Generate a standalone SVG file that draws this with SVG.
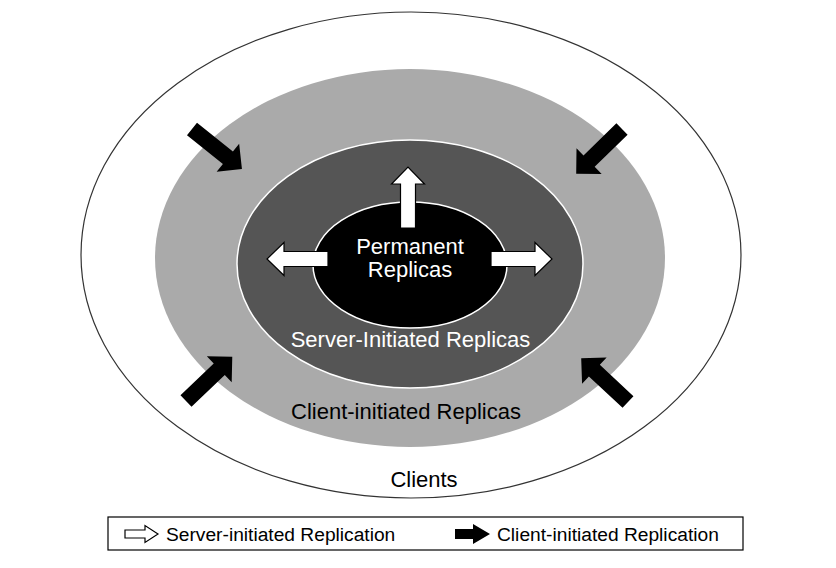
<svg xmlns="http://www.w3.org/2000/svg" width="836" height="568" viewBox="0 0 836 568">
<style>
  text { font-family: "Liberation Sans", Arial, sans-serif; text-anchor: middle; }
  .lbl { font-size: 22px; }
  .leg { font-size: 19.2px; text-anchor: start; fill: #000; }
  .warrow { fill: #fff; stroke: #000; stroke-width: 1.2; stroke-linejoin: miter; }
  .barrow { fill: #000; }
</style>
<defs>
  <path id="wa" d="M0,-7.5 L44,-7.5 L44,-16.5 L61,0 L44,16.5 L44,7.5 L0,7.5 Z"/>
  <path id="ba" d="M0,-8 L46,-8 L46,-18 L64,0 L46,18 L46,8 L0,8 Z"/>
</defs>
<rect width="836" height="568" fill="#fff"/>
<g id="clients">
  <ellipse cx="411" cy="255" rx="330" ry="243" fill="#fff" stroke="#333" stroke-width="1.2"/>
  <text class="lbl" x="424" y="487" fill="#000">Clients</text>
</g>
<g id="client-initiated">
  <ellipse cx="410" cy="258" rx="255" ry="189" fill="#aaaaaa"/>
  <text class="lbl" x="406" y="419" fill="#000">Client-initiated Replicas</text>
</g>
<g id="server-initiated">
  <ellipse cx="410" cy="264" rx="173" ry="124" fill="#555555" stroke="#fff" stroke-width="1.5"/>
  <text class="lbl" x="410.5" y="347" fill="#fff">Server-Initiated Replicas</text>
</g>
<g id="permanent">
  <ellipse cx="410" cy="265" rx="97" ry="63" fill="#000" stroke="#fff" stroke-width="1.5"/>
  <text class="lbl" x="410" y="254" fill="#fff">Permanent</text>
  <text class="lbl" x="410" y="277" fill="#fff">Replicas</text>
</g>
<g id="connectors">
  <use href="#wa" class="warrow" transform="translate(408,228) rotate(-90)"/>
  <use href="#wa" class="warrow" transform="translate(328,259) rotate(180)"/>
  <use href="#wa" class="warrow" transform="translate(491,259)"/>
  <use href="#ba" class="barrow" transform="translate(192,129) rotate(38.7)"/>
  <use href="#ba" class="barrow" transform="translate(622,129) rotate(135.7)"/>
  <use href="#ba" class="barrow" transform="translate(186,401) rotate(-43.7)"/>
  <use href="#ba" class="barrow" transform="translate(628,402) rotate(223)"/>
</g>
<g id="legend">
  <rect x="108" y="517" width="635" height="33" fill="#fff" stroke="#000" stroke-width="1.2"/>
  <path d="M125,530 L145,530 L145,525.5 L158,534 L145,542.5 L145,538 L125,538 Z" fill="#fff" stroke="#000" stroke-width="1.2"/>
  <text class="leg" x="166" y="541">Server-initiated Replication</text>
  <path d="M455,529 L473,529 L473,524 L490,534 L473,544 L473,539 L455,539 Z" fill="#000"/>
  <text class="leg" x="497" y="541">Client-initiated Replication</text>
</g>
</svg>
